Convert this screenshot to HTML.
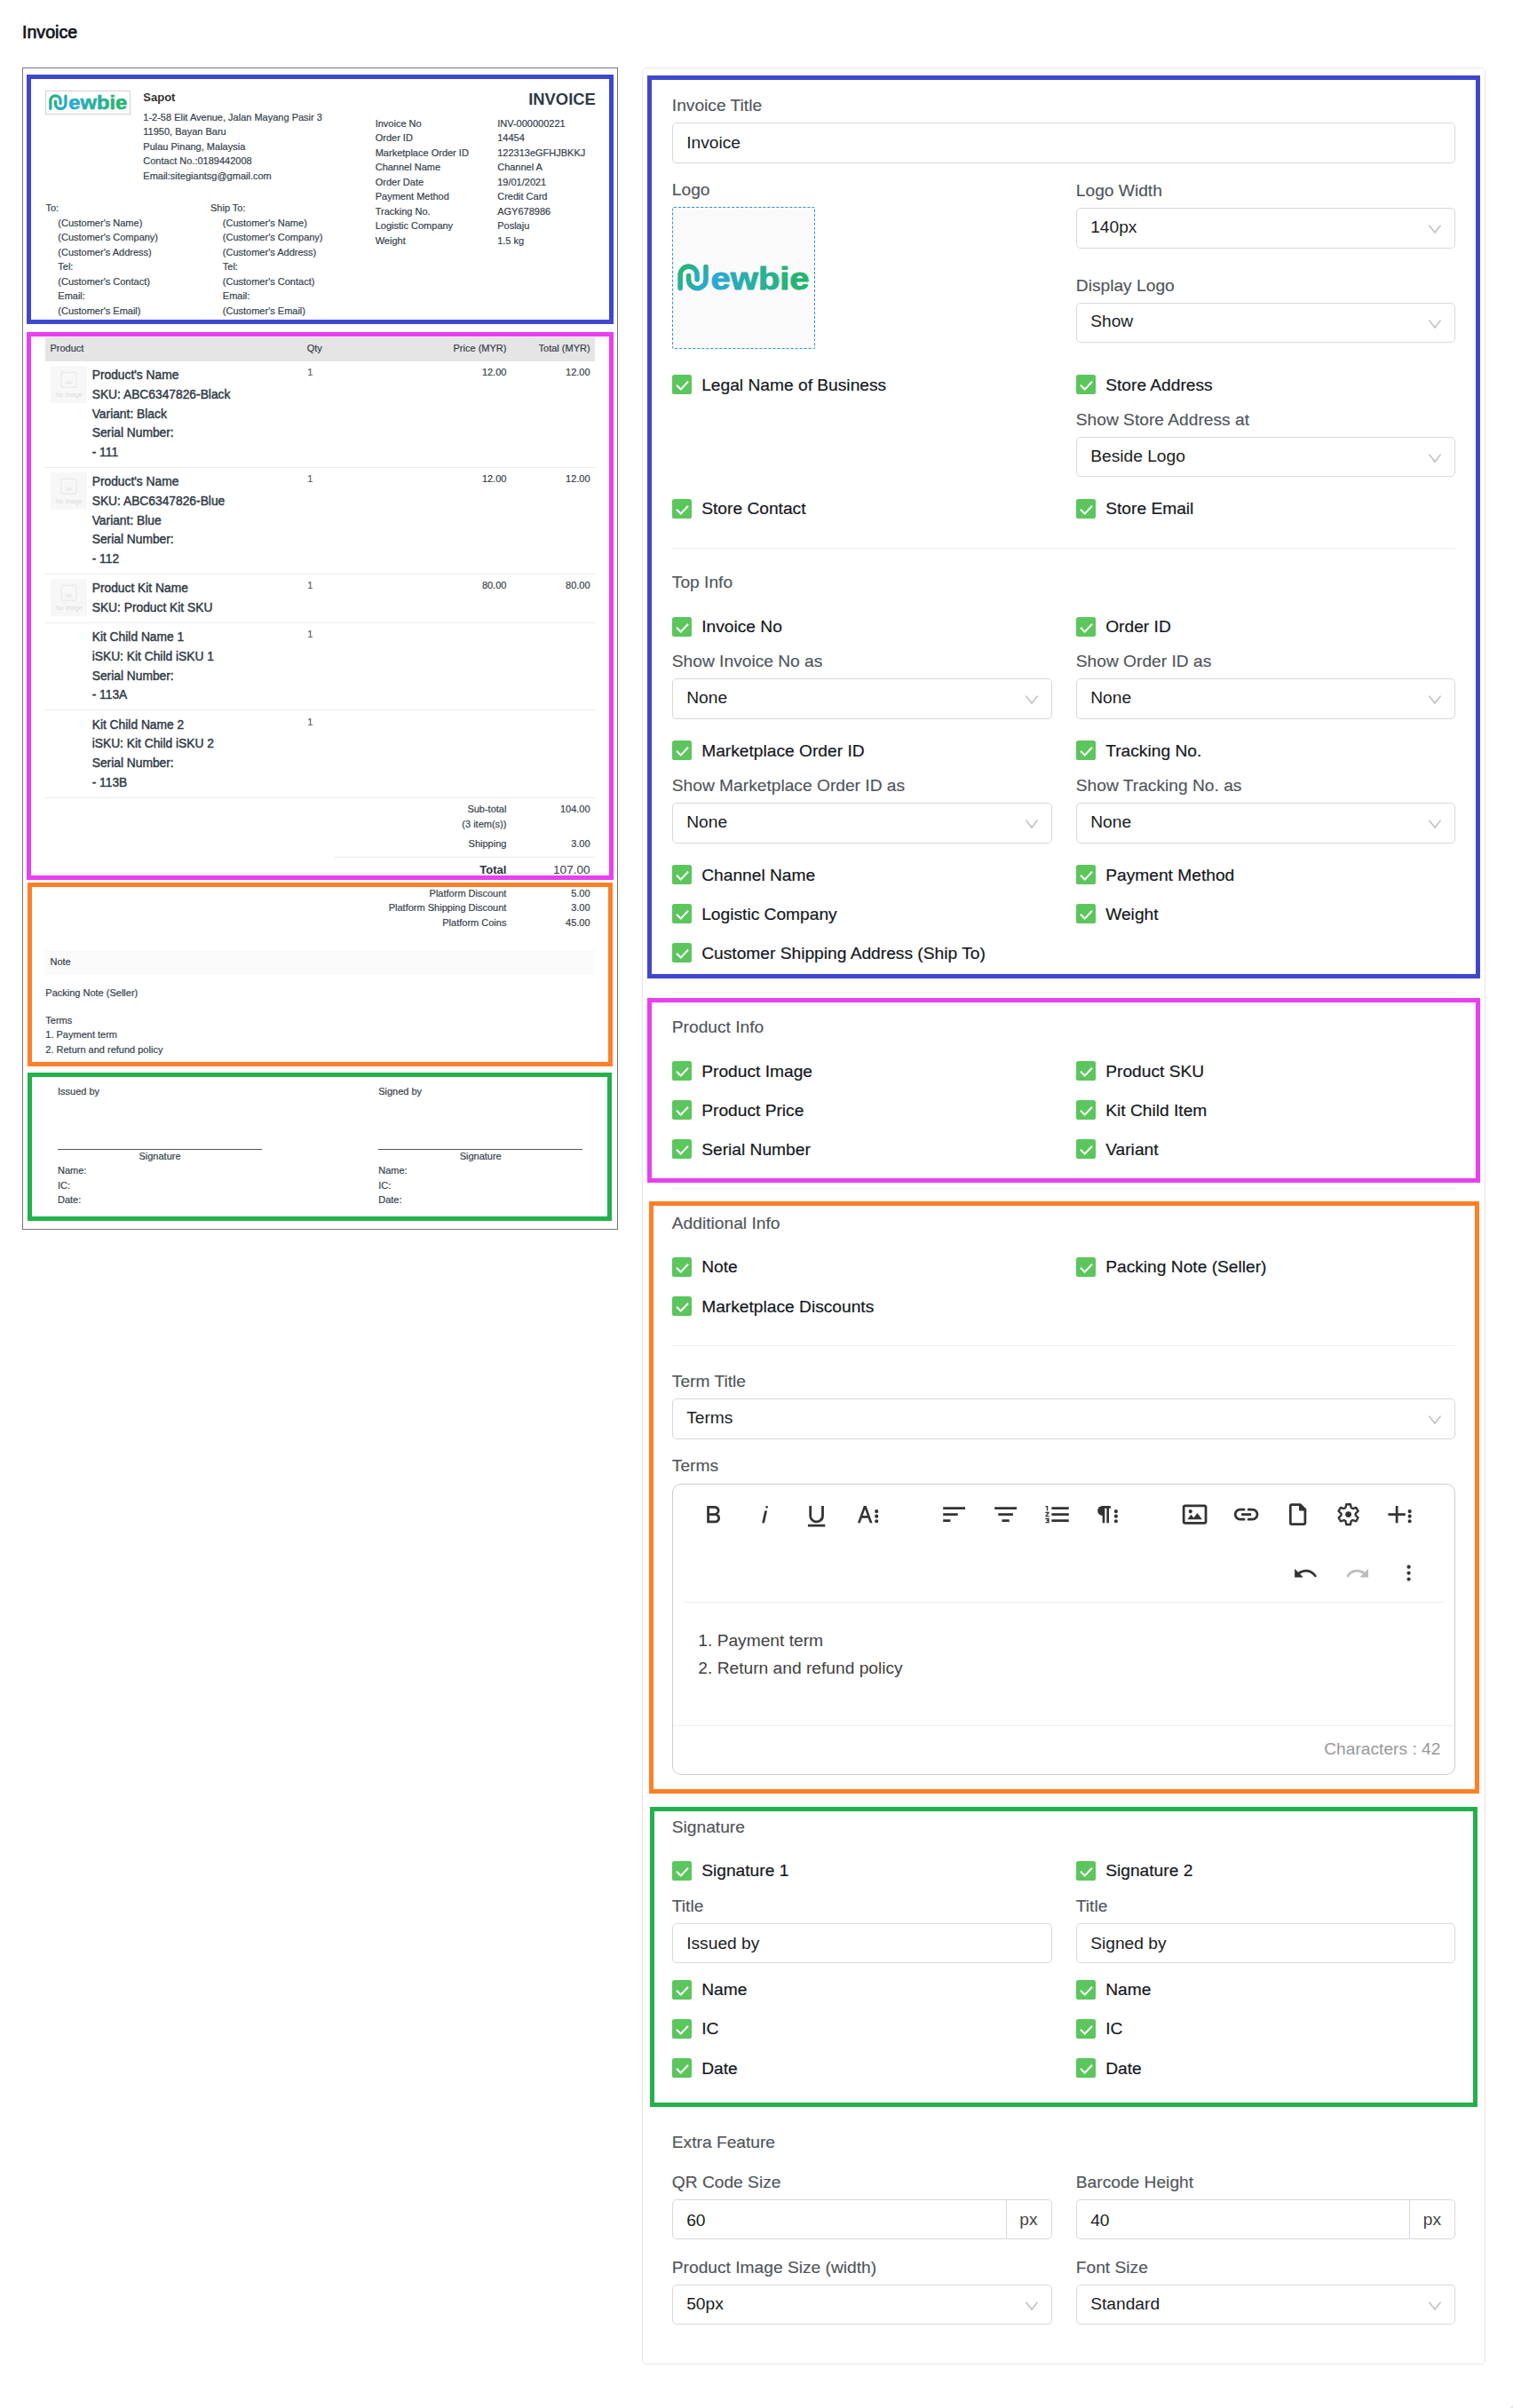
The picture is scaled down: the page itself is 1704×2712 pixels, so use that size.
<!DOCTYPE html>
<html lang="en"><head><meta charset="utf-8"><title>Invoice</title>
<style>
html,body{margin:0;padding:0;background:#fff;}
body{width:1704px;height:2712px;position:relative;overflow:hidden;font-family:"Liberation Sans",sans-serif;}
.a{position:absolute;box-sizing:content-box;}
.t{position:absolute;white-space:nowrap;}
svg{display:block;overflow:visible;}
</style></head>
<body>
<svg width="0" height="0" style="position:absolute"><defs>
<linearGradient id="g1" x1="0" y1="0" x2="1" y2="1"><stop offset="0" stop-color="#27b569"/><stop offset="1" stop-color="#2aa8dc"/></linearGradient>
<linearGradient id="g2" gradientUnits="userSpaceOnUse" x1="38" y1="0" x2="149" y2="0"><stop offset="0" stop-color="#2aa8dc"/><stop offset="0.45" stop-color="#28b09c"/><stop offset="1" stop-color="#25b566"/></linearGradient>
</defs></svg>
<div class="t" style="top:25px;font-size:19.6px;line-height:22px;color:#12121a;-webkit-text-stroke:0.7px #12121a;left:25.00px;">Invoice</div>
<div class="a" style="left:25px;top:76px;width:669px;height:1307px;border:1px solid #767676;"></div>
<div class="a" style="left:30px;top:84px;width:651px;height:271px;border:5px solid #3f48cc;"></div>
<div class="a" style="left:30px;top:374px;width:651px;height:607px;border:5px solid #e83ff0;"></div>
<div class="a" style="left:31px;top:994px;width:649px;height:196.5px;border:5px solid #ff7f27;"></div>
<div class="a" style="left:31px;top:1208px;width:648px;height:157px;border:5px solid #22b14c;"></div>
<div class="a" style="left:51px;top:102px;width:94px;height:25px;border:1px solid #d0d0d0;"></div>
<svg class="a" style="left:55px;top:105.9px" width="88.4" height="18.6" viewBox="0 0 149 31.3"><g>
<path d="M3.1 27.4 V12.6 A9.5 9.5 0 0 1 22.1 12.6 V17.8" fill="none" stroke="url(#g1)" stroke-width="5.6" stroke-linecap="round"/>
<path d="M12.6 13.6 V18 A9.7 9.7 0 0 0 32 18 V3.6" fill="none" stroke="url(#g1)" stroke-width="5.6" stroke-linecap="round"/>
<text x="37.6" y="29.2" font-family="Liberation Sans, sans-serif" font-weight="bold" font-size="35.8" textLength="111" lengthAdjust="spacingAndGlyphs" fill="url(#g2)" stroke="url(#g2)" stroke-width="1.0" stroke-linejoin="round">ewbie</text>
</g></svg>
<div class="t" style="top:102px;font-size:13px;line-height:15px;color:#333;font-weight:bold;left:161.30px;">Sapot</div>
<div class="t" style="top:126px;font-size:11px;line-height:12px;color:#333d48;-webkit-text-stroke:0.18px #333d48;left:161.30px;">1-2-58 Elit Avenue, Jalan Mayang Pasir 3</div>
<div class="t" style="top:142px;font-size:11px;line-height:12px;color:#333d48;-webkit-text-stroke:0.18px #333d48;left:161.30px;">11950, Bayan Baru</div>
<div class="t" style="top:159px;font-size:11px;line-height:12px;color:#333d48;-webkit-text-stroke:0.18px #333d48;left:161.30px;">Pulau Pinang, Malaysia</div>
<div class="t" style="top:175px;font-size:11px;line-height:12px;color:#333d48;-webkit-text-stroke:0.18px #333d48;left:161.30px;">Contact No.:0189442008</div>
<div class="t" style="top:192px;font-size:11px;line-height:12px;color:#333d48;-webkit-text-stroke:0.18px #333d48;left:161.30px;">Email:sitegiantsg@gmail.com</div>
<div class="t" style="top:101px;font-size:18.4px;line-height:21px;color:#2f3a45;font-weight:bold;right:1033.20px;">INVOICE</div>
<div class="t" style="top:133px;font-size:11px;line-height:12px;color:#333d48;-webkit-text-stroke:0.18px #333d48;left:422.70px;">Invoice No</div>
<div class="t" style="top:133px;font-size:11px;line-height:12px;color:#333d48;-webkit-text-stroke:0.18px #333d48;left:560.20px;">INV-000000221</div>
<div class="t" style="top:149px;font-size:11px;line-height:12px;color:#333d48;-webkit-text-stroke:0.18px #333d48;left:422.70px;">Order ID</div>
<div class="t" style="top:149px;font-size:11px;line-height:12px;color:#333d48;-webkit-text-stroke:0.18px #333d48;left:560.20px;">14454</div>
<div class="t" style="top:166px;font-size:11px;line-height:12px;color:#333d48;-webkit-text-stroke:0.18px #333d48;left:422.70px;">Marketplace Order ID</div>
<div class="t" style="top:166px;font-size:11px;line-height:12px;color:#333d48;-webkit-text-stroke:0.18px #333d48;left:560.20px;">122313eGFHJBKKJ</div>
<div class="t" style="top:182px;font-size:11px;line-height:12px;color:#333d48;-webkit-text-stroke:0.18px #333d48;left:422.70px;">Channel Name</div>
<div class="t" style="top:182px;font-size:11px;line-height:12px;color:#333d48;-webkit-text-stroke:0.18px #333d48;left:560.20px;">Channel A</div>
<div class="t" style="top:199px;font-size:11px;line-height:12px;color:#333d48;-webkit-text-stroke:0.18px #333d48;left:422.70px;">Order Date</div>
<div class="t" style="top:199px;font-size:11px;line-height:12px;color:#333d48;-webkit-text-stroke:0.18px #333d48;left:560.20px;">19/01/2021</div>
<div class="t" style="top:215px;font-size:11px;line-height:12px;color:#333d48;-webkit-text-stroke:0.18px #333d48;left:422.70px;">Payment Method</div>
<div class="t" style="top:215px;font-size:11px;line-height:12px;color:#333d48;-webkit-text-stroke:0.18px #333d48;left:560.20px;">Credit Card</div>
<div class="t" style="top:232px;font-size:11px;line-height:12px;color:#333d48;-webkit-text-stroke:0.18px #333d48;left:422.70px;">Tracking No.</div>
<div class="t" style="top:232px;font-size:11px;line-height:12px;color:#333d48;-webkit-text-stroke:0.18px #333d48;left:560.20px;">AGY678986</div>
<div class="t" style="top:248px;font-size:11px;line-height:12px;color:#333d48;-webkit-text-stroke:0.18px #333d48;left:422.70px;">Logistic Company</div>
<div class="t" style="top:248px;font-size:11px;line-height:12px;color:#333d48;-webkit-text-stroke:0.18px #333d48;left:560.20px;">Poslaju</div>
<div class="t" style="top:265px;font-size:11px;line-height:12px;color:#333d48;-webkit-text-stroke:0.18px #333d48;left:422.70px;">Weight</div>
<div class="t" style="top:265px;font-size:11px;line-height:12px;color:#333d48;-webkit-text-stroke:0.18px #333d48;left:560.20px;">1.5 kg</div>
<div class="t" style="top:228px;font-size:11px;line-height:12px;color:#333d48;-webkit-text-stroke:0.18px #333d48;left:51.50px;">To:</div>
<div class="t" style="top:228px;font-size:11px;line-height:12px;color:#333d48;-webkit-text-stroke:0.18px #333d48;left:237.00px;">Ship To:</div>
<div class="t" style="top:245px;font-size:11px;line-height:12px;color:#333d48;-webkit-text-stroke:0.18px #333d48;left:65.30px;">(Customer's Name)</div>
<div class="t" style="top:245px;font-size:11px;line-height:12px;color:#333d48;-webkit-text-stroke:0.18px #333d48;left:250.80px;">(Customer's Name)</div>
<div class="t" style="top:261px;font-size:11px;line-height:12px;color:#333d48;-webkit-text-stroke:0.18px #333d48;left:65.30px;">(Customer's Company)</div>
<div class="t" style="top:261px;font-size:11px;line-height:12px;color:#333d48;-webkit-text-stroke:0.18px #333d48;left:250.80px;">(Customer's Company)</div>
<div class="t" style="top:278px;font-size:11px;line-height:12px;color:#333d48;-webkit-text-stroke:0.18px #333d48;left:65.30px;">(Customer's Address)</div>
<div class="t" style="top:278px;font-size:11px;line-height:12px;color:#333d48;-webkit-text-stroke:0.18px #333d48;left:250.80px;">(Customer's Address)</div>
<div class="t" style="top:294px;font-size:11px;line-height:12px;color:#333d48;-webkit-text-stroke:0.18px #333d48;left:65.30px;">Tel:</div>
<div class="t" style="top:294px;font-size:11px;line-height:12px;color:#333d48;-webkit-text-stroke:0.18px #333d48;left:250.80px;">Tel:</div>
<div class="t" style="top:311px;font-size:11px;line-height:12px;color:#333d48;-webkit-text-stroke:0.18px #333d48;left:65.30px;">(Customer's Contact)</div>
<div class="t" style="top:311px;font-size:11px;line-height:12px;color:#333d48;-webkit-text-stroke:0.18px #333d48;left:250.80px;">(Customer's Contact)</div>
<div class="t" style="top:327px;font-size:11px;line-height:12px;color:#333d48;-webkit-text-stroke:0.18px #333d48;left:65.30px;">Email:</div>
<div class="t" style="top:327px;font-size:11px;line-height:12px;color:#333d48;-webkit-text-stroke:0.18px #333d48;left:250.80px;">Email:</div>
<div class="t" style="top:344px;font-size:11px;line-height:12px;color:#333d48;-webkit-text-stroke:0.18px #333d48;left:65.30px;">(Customer's Email)</div>
<div class="t" style="top:344px;font-size:11px;line-height:12px;color:#333d48;-webkit-text-stroke:0.18px #333d48;left:250.80px;">(Customer's Email)</div>
<div class="a" style="left:51px;top:380px;width:619px;height:27px;background:#e5e5e5;"></div>
<div class="t" style="top:386px;font-size:11px;line-height:12px;color:#333d48;-webkit-text-stroke:0.18px #333d48;left:56.50px;">Product</div>
<div class="t" style="top:386px;font-size:11px;line-height:12px;color:#333d48;-webkit-text-stroke:0.18px #333d48;left:345.70px;">Qty</div>
<div class="t" style="top:386px;font-size:11px;line-height:12px;color:#333d48;-webkit-text-stroke:0.18px #333d48;right:1133.60px;">Price (MYR)</div>
<div class="t" style="top:386px;font-size:11px;line-height:12px;color:#333d48;-webkit-text-stroke:0.18px #333d48;right:1039.40px;">Total (MYR)</div>
<div class="a" style="left:51px;top:526px;width:619px;height:1px;background:#ececec;"></div>
<div class="a" style="left:51px;top:646px;width:619px;height:1px;background:#ececec;"></div>
<div class="a" style="left:51px;top:701px;width:619px;height:1px;background:#ececec;"></div>
<div class="a" style="left:51px;top:799px;width:619px;height:1px;background:#ececec;"></div>
<div class="a" style="left:51px;top:898px;width:619px;height:1px;background:#ececec;"></div>
<div class="a" style="left:57px;top:412.2px;width:41px;height:41.5px;background:#f7f7f7;"></div>
<svg class="a" style="left:57px;top:412.2px" width="41" height="42" viewBox="0 0 41 42"><rect x="12.2" y="7.2" width="16.8" height="17" rx="1.5" fill="none" stroke="#ebebeb" stroke-width="1.4"/><path d="M15.5 20.5l3-4 1.6 2 1.8-2.6 3.4 4.6z" fill="#ebebeb"/><text x="20.5" y="34.6" font-size="7" text-anchor="middle" fill="#dcdcdc" font-family="Liberation Sans, sans-serif">No image</text></svg>
<div class="t" style="top:415px;font-size:13.8px;line-height:15px;color:#2f3944;-webkit-text-stroke:0.42px #2f3944;left:103.70px;">Product's Name</div>
<div class="t" style="top:437px;font-size:13.8px;line-height:15px;color:#2f3944;-webkit-text-stroke:0.42px #2f3944;left:103.70px;">SKU: ABC6347826-Black</div>
<div class="t" style="top:459px;font-size:13.8px;line-height:15px;color:#2f3944;-webkit-text-stroke:0.42px #2f3944;left:103.70px;">Variant: Black</div>
<div class="t" style="top:480px;font-size:13.8px;line-height:15px;color:#2f3944;-webkit-text-stroke:0.42px #2f3944;left:103.70px;">Serial Number:</div>
<div class="t" style="top:502px;font-size:13.8px;line-height:15px;color:#2f3944;-webkit-text-stroke:0.42px #2f3944;left:103.70px;">- 111</div>
<div class="t" style="top:413px;font-size:11px;line-height:12px;color:#555e66;-webkit-text-stroke:0.18px #555e66;left:346.20px;">1</div>
<div class="t" style="top:413px;font-size:11px;line-height:12px;color:#333d48;-webkit-text-stroke:0.18px #333d48;right:1133.60px;">12.00</div>
<div class="t" style="top:413px;font-size:11px;line-height:12px;color:#333d48;-webkit-text-stroke:0.18px #333d48;right:1039.40px;">12.00</div>
<div class="a" style="left:57px;top:532.3px;width:41px;height:41.5px;background:#f7f7f7;"></div>
<svg class="a" style="left:57px;top:532.3px" width="41" height="42" viewBox="0 0 41 42"><rect x="12.2" y="7.2" width="16.8" height="17" rx="1.5" fill="none" stroke="#ebebeb" stroke-width="1.4"/><path d="M15.5 20.5l3-4 1.6 2 1.8-2.6 3.4 4.6z" fill="#ebebeb"/><text x="20.5" y="34.6" font-size="7" text-anchor="middle" fill="#dcdcdc" font-family="Liberation Sans, sans-serif">No image</text></svg>
<div class="t" style="top:535px;font-size:13.8px;line-height:15px;color:#2f3944;-webkit-text-stroke:0.42px #2f3944;left:103.70px;">Product's Name</div>
<div class="t" style="top:557px;font-size:13.8px;line-height:15px;color:#2f3944;-webkit-text-stroke:0.42px #2f3944;left:103.70px;">SKU: ABC6347826-Blue</div>
<div class="t" style="top:579px;font-size:13.8px;line-height:15px;color:#2f3944;-webkit-text-stroke:0.42px #2f3944;left:103.70px;">Variant: Blue</div>
<div class="t" style="top:600px;font-size:13.8px;line-height:15px;color:#2f3944;-webkit-text-stroke:0.42px #2f3944;left:103.70px;">Serial Number:</div>
<div class="t" style="top:622px;font-size:13.8px;line-height:15px;color:#2f3944;-webkit-text-stroke:0.42px #2f3944;left:103.70px;">- 112</div>
<div class="t" style="top:533px;font-size:11px;line-height:12px;color:#555e66;-webkit-text-stroke:0.18px #555e66;left:346.20px;">1</div>
<div class="t" style="top:533px;font-size:11px;line-height:12px;color:#333d48;-webkit-text-stroke:0.18px #333d48;right:1133.60px;">12.00</div>
<div class="t" style="top:533px;font-size:11px;line-height:12px;color:#333d48;-webkit-text-stroke:0.18px #333d48;right:1039.40px;">12.00</div>
<div class="a" style="left:57px;top:652.4px;width:41px;height:41.5px;background:#f7f7f7;"></div>
<svg class="a" style="left:57px;top:652.4px" width="41" height="42" viewBox="0 0 41 42"><rect x="12.2" y="7.2" width="16.8" height="17" rx="1.5" fill="none" stroke="#ebebeb" stroke-width="1.4"/><path d="M15.5 20.5l3-4 1.6 2 1.8-2.6 3.4 4.6z" fill="#ebebeb"/><text x="20.5" y="34.6" font-size="7" text-anchor="middle" fill="#dcdcdc" font-family="Liberation Sans, sans-serif">No image</text></svg>
<div class="t" style="top:655px;font-size:13.8px;line-height:15px;color:#2f3944;-webkit-text-stroke:0.42px #2f3944;left:103.70px;">Product Kit Name</div>
<div class="t" style="top:677px;font-size:13.8px;line-height:15px;color:#2f3944;-webkit-text-stroke:0.42px #2f3944;left:103.70px;">SKU: Product Kit SKU</div>
<div class="t" style="top:653px;font-size:11px;line-height:12px;color:#555e66;-webkit-text-stroke:0.18px #555e66;left:346.20px;">1</div>
<div class="t" style="top:653px;font-size:11px;line-height:12px;color:#333d48;-webkit-text-stroke:0.18px #333d48;right:1133.60px;">80.00</div>
<div class="t" style="top:653px;font-size:11px;line-height:12px;color:#333d48;-webkit-text-stroke:0.18px #333d48;right:1039.40px;">80.00</div>
<div class="t" style="top:710px;font-size:13.8px;line-height:15px;color:#2f3944;-webkit-text-stroke:0.42px #2f3944;left:103.70px;">Kit Child Name 1</div>
<div class="t" style="top:732px;font-size:13.8px;line-height:15px;color:#2f3944;-webkit-text-stroke:0.42px #2f3944;left:103.70px;">iSKU: Kit Child iSKU 1</div>
<div class="t" style="top:754px;font-size:13.8px;line-height:15px;color:#2f3944;-webkit-text-stroke:0.42px #2f3944;left:103.70px;">Serial Number:</div>
<div class="t" style="top:775px;font-size:13.8px;line-height:15px;color:#2f3944;-webkit-text-stroke:0.42px #2f3944;left:103.70px;">- 113A</div>
<div class="t" style="top:708px;font-size:11px;line-height:12px;color:#555e66;-webkit-text-stroke:0.18px #555e66;left:346.20px;">1</div>
<div class="t" style="top:809px;font-size:13.8px;line-height:15px;color:#2f3944;-webkit-text-stroke:0.42px #2f3944;left:103.70px;">Kit Child Name 2</div>
<div class="t" style="top:830px;font-size:13.8px;line-height:15px;color:#2f3944;-webkit-text-stroke:0.42px #2f3944;left:103.70px;">iSKU: Kit Child iSKU 2</div>
<div class="t" style="top:852px;font-size:13.8px;line-height:15px;color:#2f3944;-webkit-text-stroke:0.42px #2f3944;left:103.70px;">Serial Number:</div>
<div class="t" style="top:874px;font-size:13.8px;line-height:15px;color:#2f3944;-webkit-text-stroke:0.42px #2f3944;left:103.70px;">- 113B</div>
<div class="t" style="top:807px;font-size:11px;line-height:12px;color:#555e66;-webkit-text-stroke:0.18px #555e66;left:346.20px;">1</div>
<div class="t" style="top:905px;font-size:11px;line-height:12px;color:#333d48;-webkit-text-stroke:0.18px #333d48;right:1133.60px;">Sub-total</div>
<div class="t" style="top:905px;font-size:11px;line-height:12px;color:#333d48;-webkit-text-stroke:0.18px #333d48;right:1039.40px;">104.00</div>
<div class="t" style="top:922px;font-size:11px;line-height:12px;color:#333d48;-webkit-text-stroke:0.18px #333d48;right:1133.60px;">(3 item(s))</div>
<div class="t" style="top:944px;font-size:11px;line-height:12px;color:#333d48;-webkit-text-stroke:0.18px #333d48;right:1133.60px;">Shipping</div>
<div class="t" style="top:944px;font-size:11px;line-height:12px;color:#333d48;-webkit-text-stroke:0.18px #333d48;right:1039.40px;">3.00</div>
<div class="a" style="left:377px;top:965px;width:293px;height:1px;background:#ececec;"></div>
<div class="t" style="top:972px;font-size:13px;line-height:15px;color:#2a323b;font-weight:bold;right:1133.60px;">Total</div>
<div class="t" style="top:972px;font-size:13.6px;line-height:15px;color:#333d48;right:1039.40px;">107.00</div>
<div class="a" style="left:30px;top:986px;width:661px;height:5px;background:#e83ff0;"></div>
<div class="t" style="top:1000px;font-size:11px;line-height:12px;color:#333d48;-webkit-text-stroke:0.18px #333d48;right:1133.60px;">Platform Discount</div>
<div class="t" style="top:1000px;font-size:11px;line-height:12px;color:#333d48;-webkit-text-stroke:0.18px #333d48;right:1039.40px;">5.00</div>
<div class="t" style="top:1016px;font-size:11px;line-height:12px;color:#333d48;-webkit-text-stroke:0.18px #333d48;right:1133.60px;">Platform Shipping Discount</div>
<div class="t" style="top:1016px;font-size:11px;line-height:12px;color:#333d48;-webkit-text-stroke:0.18px #333d48;right:1039.40px;">3.00</div>
<div class="t" style="top:1033px;font-size:11px;line-height:12px;color:#333d48;-webkit-text-stroke:0.18px #333d48;right:1133.60px;">Platform Coins</div>
<div class="t" style="top:1033px;font-size:11px;line-height:12px;color:#333d48;-webkit-text-stroke:0.18px #333d48;right:1039.40px;">45.00</div>
<div class="a" style="left:51px;top:1070px;width:619px;height:27.5px;background:#fafafa;"></div>
<div class="t" style="top:1077px;font-size:11px;line-height:12px;color:#333d48;-webkit-text-stroke:0.18px #333d48;left:56.50px;">Note</div>
<div class="t" style="top:1112px;font-size:11px;line-height:12px;color:#333d48;-webkit-text-stroke:0.18px #333d48;left:51.30px;">Packing Note (Seller)</div>
<div class="t" style="top:1143px;font-size:11px;line-height:12px;color:#333d48;-webkit-text-stroke:0.18px #333d48;left:51.30px;">Terms</div>
<div class="t" style="top:1159px;font-size:11px;line-height:12px;color:#333d48;-webkit-text-stroke:0.18px #333d48;left:51.30px;">1. Payment term</div>
<div class="t" style="top:1176px;font-size:11px;line-height:12px;color:#333d48;-webkit-text-stroke:0.18px #333d48;left:51.30px;">2. Return and refund policy</div>
<div class="t" style="top:1223px;font-size:11px;line-height:12px;color:#333d48;-webkit-text-stroke:0.18px #333d48;left:65.00px;">Issued by</div>
<div class="a" style="left:65px;top:1294px;width:230px;height:1px;background:#555;"></div>
<div class="t" style="top:1296px;font-size:11px;line-height:12px;color:#333d48;-webkit-text-stroke:0.18px #333d48;left:-220.00px;width:800px;text-align:center;">Signature</div>
<div class="t" style="top:1312px;font-size:11px;line-height:12px;color:#333d48;-webkit-text-stroke:0.18px #333d48;left:65.00px;">Name:</div>
<div class="t" style="top:1329px;font-size:11px;line-height:12px;color:#333d48;-webkit-text-stroke:0.18px #333d48;left:65.00px;">IC:</div>
<div class="t" style="top:1345px;font-size:11px;line-height:12px;color:#333d48;-webkit-text-stroke:0.18px #333d48;left:65.00px;">Date:</div>
<div class="t" style="top:1223px;font-size:11px;line-height:12px;color:#333d48;-webkit-text-stroke:0.18px #333d48;left:426.20px;">Signed by</div>
<div class="a" style="left:426.2px;top:1294px;width:230.00000000000006px;height:1px;background:#555;"></div>
<div class="t" style="top:1296px;font-size:11px;line-height:12px;color:#333d48;-webkit-text-stroke:0.18px #333d48;left:141.20px;width:800px;text-align:center;">Signature</div>
<div class="t" style="top:1312px;font-size:11px;line-height:12px;color:#333d48;-webkit-text-stroke:0.18px #333d48;left:426.20px;">Name:</div>
<div class="t" style="top:1329px;font-size:11px;line-height:12px;color:#333d48;-webkit-text-stroke:0.18px #333d48;left:426.20px;">IC:</div>
<div class="t" style="top:1345px;font-size:11px;line-height:12px;color:#333d48;-webkit-text-stroke:0.18px #333d48;left:426.20px;">Date:</div>
<div class="a" style="left:723px;top:76px;width:948px;height:2585px;border:1px solid #e6e6e6;border-radius:5px;"></div>
<div class="a" style="left:729px;top:85px;width:928px;height:1007px;border:5px solid #3f48cc;"></div>
<div class="a" style="left:729px;top:1124px;width:928px;height:198px;border:5px solid #e83ff0;"></div>
<div class="a" style="left:731px;top:1353px;width:925px;height:657px;border:5px solid #ff7f27;"></div>
<div class="a" style="left:732px;top:2035px;width:922px;height:328px;border:5px solid #22b14c;"></div>
<div class="t" style="top:108px;font-size:19.2px;line-height:21px;color:#50555b;-webkit-text-stroke:0.15px #50555b;left:756.80px;">Invoice Title</div>
<div class="a" style="left:757px;top:138px;width:880px;height:44px;border:1px solid #d8d8d8;border-radius:5px;background:#fff;"></div>
<div class="t" style="top:150px;font-size:19.2px;line-height:21px;color:#1a1c22;left:773.20px;">Invoice</div>
<div class="t" style="top:203px;font-size:19.2px;line-height:21px;color:#50555b;-webkit-text-stroke:0.15px #50555b;left:756.80px;">Logo</div>
<div class="t" style="top:204px;font-size:19.2px;line-height:21px;color:#50555b;-webkit-text-stroke:0.15px #50555b;left:1211.80px;">Logo Width</div>
<div class="a" style="left:1212px;top:234px;width:425px;height:44px;border:1px solid #d8d8d8;border-radius:5px;background:#fff;"></div>
<div class="t" style="top:245px;font-size:19.2px;line-height:21px;color:#1a1c22;left:1228.20px;">140px</div>
<svg class="a" style="left:1607.4px;top:250.60000000000002px" width="18" height="14" viewBox="0 0 18 14"><path d="M2.4 2.6 L9 11 L15.6 2.6" fill="none" stroke="#bdbdbd" stroke-width="1.5"/></svg>
<div class="a" style="left:757px;top:233px;width:159px;height:157.5px;border:1px dashed #2f8fe8;background:#fafafa;border-radius:2px;"></div>
<svg class="a" style="left:763px;top:297.4px" width="149" height="31.3" viewBox="0 0 149 31.3"><g>
<path d="M3.1 27.4 V12.6 A9.5 9.5 0 0 1 22.1 12.6 V17.8" fill="none" stroke="url(#g1)" stroke-width="5.6" stroke-linecap="round"/>
<path d="M12.6 13.6 V18 A9.7 9.7 0 0 0 32 18 V3.6" fill="none" stroke="url(#g1)" stroke-width="5.6" stroke-linecap="round"/>
<text x="37.6" y="29.2" font-family="Liberation Sans, sans-serif" font-weight="bold" font-size="35.8" textLength="111" lengthAdjust="spacingAndGlyphs" fill="url(#g2)" stroke="url(#g2)" stroke-width="1.0" stroke-linejoin="round">ewbie</text>
</g></svg>
<div class="t" style="top:311px;font-size:19.2px;line-height:21px;color:#50555b;-webkit-text-stroke:0.15px #50555b;left:1211.80px;">Display Logo</div>
<div class="a" style="left:1212px;top:341px;width:425px;height:43px;border:1px solid #d8d8d8;border-radius:5px;background:#fff;"></div>
<div class="t" style="top:351px;font-size:19.2px;line-height:21px;color:#1a1c22;left:1228.20px;">Show</div>
<svg class="a" style="left:1607.4px;top:357.6px" width="18" height="14" viewBox="0 0 18 14"><path d="M2.4 2.6 L9 11 L15.6 2.6" fill="none" stroke="#bdbdbd" stroke-width="1.5"/></svg>
<svg class="a" style="left:757px;top:422px" width="22" height="22" viewBox="0 0 22 22"><rect width="22" height="22" rx="2.6" fill="#5bc65c"/><path d="M5 11.8 L9.7 16.6 L18 7.8" fill="none" stroke="#fff" stroke-width="2.1"/></svg>
<div class="t" style="top:423px;font-size:19.2px;line-height:21px;color:#15181d;-webkit-text-stroke:0.2px #15181d;left:790.20px;">Legal Name of Business</div>
<svg class="a" style="left:1212px;top:422px" width="22" height="22" viewBox="0 0 22 22"><rect width="22" height="22" rx="2.6" fill="#5bc65c"/><path d="M5 11.8 L9.7 16.6 L18 7.8" fill="none" stroke="#fff" stroke-width="2.1"/></svg>
<div class="t" style="top:423px;font-size:19.2px;line-height:21px;color:#15181d;-webkit-text-stroke:0.2px #15181d;left:1245.20px;">Store Address</div>
<div class="t" style="top:462px;font-size:19.2px;line-height:21px;color:#50555b;-webkit-text-stroke:0.15px #50555b;left:1211.80px;">Show Store Address at</div>
<div class="a" style="left:1212px;top:492px;width:425px;height:43px;border:1px solid #d8d8d8;border-radius:5px;background:#fff;"></div>
<div class="t" style="top:503px;font-size:19.2px;line-height:21px;color:#1a1c22;left:1228.20px;">Beside Logo</div>
<svg class="a" style="left:1607.4px;top:508.6px" width="18" height="14" viewBox="0 0 18 14"><path d="M2.4 2.6 L9 11 L15.6 2.6" fill="none" stroke="#bdbdbd" stroke-width="1.5"/></svg>
<svg class="a" style="left:757px;top:562px" width="22" height="22" viewBox="0 0 22 22"><rect width="22" height="22" rx="2.6" fill="#5bc65c"/><path d="M5 11.8 L9.7 16.6 L18 7.8" fill="none" stroke="#fff" stroke-width="2.1"/></svg>
<div class="t" style="top:562px;font-size:19.2px;line-height:21px;color:#15181d;-webkit-text-stroke:0.2px #15181d;left:790.20px;">Store Contact</div>
<svg class="a" style="left:1212px;top:562px" width="22" height="22" viewBox="0 0 22 22"><rect width="22" height="22" rx="2.6" fill="#5bc65c"/><path d="M5 11.8 L9.7 16.6 L18 7.8" fill="none" stroke="#fff" stroke-width="2.1"/></svg>
<div class="t" style="top:562px;font-size:19.2px;line-height:21px;color:#15181d;-webkit-text-stroke:0.2px #15181d;left:1245.20px;">Store Email</div>
<div class="a" style="left:757px;top:617px;width:882px;height:1px;background:#eeeeee;"></div>
<div class="t" style="top:645px;font-size:19.2px;line-height:21px;color:#50555b;-webkit-text-stroke:0.15px #50555b;left:756.80px;">Top Info</div>
<svg class="a" style="left:757px;top:695px" width="22" height="22" viewBox="0 0 22 22"><rect width="22" height="22" rx="2.6" fill="#5bc65c"/><path d="M5 11.8 L9.7 16.6 L18 7.8" fill="none" stroke="#fff" stroke-width="2.1"/></svg>
<div class="t" style="top:695px;font-size:19.2px;line-height:21px;color:#15181d;-webkit-text-stroke:0.2px #15181d;left:790.20px;">Invoice No</div>
<svg class="a" style="left:1212px;top:695px" width="22" height="22" viewBox="0 0 22 22"><rect width="22" height="22" rx="2.6" fill="#5bc65c"/><path d="M5 11.8 L9.7 16.6 L18 7.8" fill="none" stroke="#fff" stroke-width="2.1"/></svg>
<div class="t" style="top:695px;font-size:19.2px;line-height:21px;color:#15181d;-webkit-text-stroke:0.2px #15181d;left:1245.20px;">Order ID</div>
<div class="t" style="top:734px;font-size:19.2px;line-height:21px;color:#50555b;-webkit-text-stroke:0.15px #50555b;left:756.80px;">Show Invoice No as</div>
<div class="t" style="top:734px;font-size:19.2px;line-height:21px;color:#50555b;-webkit-text-stroke:0.15px #50555b;left:1211.80px;">Show Order ID as</div>
<div class="a" style="left:757px;top:764px;width:425.5px;height:44px;border:1px solid #d8d8d8;border-radius:5px;background:#fff;"></div>
<div class="t" style="top:775px;font-size:19.2px;line-height:21px;color:#1a1c22;left:773.20px;">None</div>
<svg class="a" style="left:1152.9px;top:780.6px" width="18" height="14" viewBox="0 0 18 14"><path d="M2.4 2.6 L9 11 L15.6 2.6" fill="none" stroke="#bdbdbd" stroke-width="1.5"/></svg>
<div class="a" style="left:1212px;top:764px;width:425px;height:44px;border:1px solid #d8d8d8;border-radius:5px;background:#fff;"></div>
<div class="t" style="top:775px;font-size:19.2px;line-height:21px;color:#1a1c22;left:1228.20px;">None</div>
<svg class="a" style="left:1607.4px;top:780.6px" width="18" height="14" viewBox="0 0 18 14"><path d="M2.4 2.6 L9 11 L15.6 2.6" fill="none" stroke="#bdbdbd" stroke-width="1.5"/></svg>
<svg class="a" style="left:757px;top:834px" width="22" height="22" viewBox="0 0 22 22"><rect width="22" height="22" rx="2.6" fill="#5bc65c"/><path d="M5 11.8 L9.7 16.6 L18 7.8" fill="none" stroke="#fff" stroke-width="2.1"/></svg>
<div class="t" style="top:835px;font-size:19.2px;line-height:21px;color:#15181d;-webkit-text-stroke:0.2px #15181d;left:790.20px;">Marketplace Order ID</div>
<svg class="a" style="left:1212px;top:834px" width="22" height="22" viewBox="0 0 22 22"><rect width="22" height="22" rx="2.6" fill="#5bc65c"/><path d="M5 11.8 L9.7 16.6 L18 7.8" fill="none" stroke="#fff" stroke-width="2.1"/></svg>
<div class="t" style="top:835px;font-size:19.2px;line-height:21px;color:#15181d;-webkit-text-stroke:0.2px #15181d;left:1245.20px;">Tracking No.</div>
<div class="t" style="top:874px;font-size:19.2px;line-height:21px;color:#50555b;-webkit-text-stroke:0.15px #50555b;left:756.80px;">Show Marketplace Order ID as</div>
<div class="t" style="top:874px;font-size:19.2px;line-height:21px;color:#50555b;-webkit-text-stroke:0.15px #50555b;left:1211.80px;">Show Tracking No. as</div>
<div class="a" style="left:757px;top:904px;width:425.5px;height:44px;border:1px solid #d8d8d8;border-radius:5px;background:#fff;"></div>
<div class="t" style="top:915px;font-size:19.2px;line-height:21px;color:#1a1c22;left:773.20px;">None</div>
<svg class="a" style="left:1152.9px;top:920.6px" width="18" height="14" viewBox="0 0 18 14"><path d="M2.4 2.6 L9 11 L15.6 2.6" fill="none" stroke="#bdbdbd" stroke-width="1.5"/></svg>
<div class="a" style="left:1212px;top:904px;width:425px;height:44px;border:1px solid #d8d8d8;border-radius:5px;background:#fff;"></div>
<div class="t" style="top:915px;font-size:19.2px;line-height:21px;color:#1a1c22;left:1228.20px;">None</div>
<svg class="a" style="left:1607.4px;top:920.6px" width="18" height="14" viewBox="0 0 18 14"><path d="M2.4 2.6 L9 11 L15.6 2.6" fill="none" stroke="#bdbdbd" stroke-width="1.5"/></svg>
<svg class="a" style="left:757px;top:974px" width="22" height="22" viewBox="0 0 22 22"><rect width="22" height="22" rx="2.6" fill="#5bc65c"/><path d="M5 11.8 L9.7 16.6 L18 7.8" fill="none" stroke="#fff" stroke-width="2.1"/></svg>
<div class="t" style="top:975px;font-size:19.2px;line-height:21px;color:#15181d;-webkit-text-stroke:0.2px #15181d;left:790.20px;">Channel Name</div>
<svg class="a" style="left:1212px;top:974px" width="22" height="22" viewBox="0 0 22 22"><rect width="22" height="22" rx="2.6" fill="#5bc65c"/><path d="M5 11.8 L9.7 16.6 L18 7.8" fill="none" stroke="#fff" stroke-width="2.1"/></svg>
<div class="t" style="top:975px;font-size:19.2px;line-height:21px;color:#15181d;-webkit-text-stroke:0.2px #15181d;left:1245.20px;">Payment Method</div>
<svg class="a" style="left:757px;top:1018px" width="22" height="22" viewBox="0 0 22 22"><rect width="22" height="22" rx="2.6" fill="#5bc65c"/><path d="M5 11.8 L9.7 16.6 L18 7.8" fill="none" stroke="#fff" stroke-width="2.1"/></svg>
<div class="t" style="top:1019px;font-size:19.2px;line-height:21px;color:#15181d;-webkit-text-stroke:0.2px #15181d;left:790.20px;">Logistic Company</div>
<svg class="a" style="left:1212px;top:1018px" width="22" height="22" viewBox="0 0 22 22"><rect width="22" height="22" rx="2.6" fill="#5bc65c"/><path d="M5 11.8 L9.7 16.6 L18 7.8" fill="none" stroke="#fff" stroke-width="2.1"/></svg>
<div class="t" style="top:1019px;font-size:19.2px;line-height:21px;color:#15181d;-webkit-text-stroke:0.2px #15181d;left:1245.20px;">Weight</div>
<svg class="a" style="left:757px;top:1062px" width="22" height="22" viewBox="0 0 22 22"><rect width="22" height="22" rx="2.6" fill="#5bc65c"/><path d="M5 11.8 L9.7 16.6 L18 7.8" fill="none" stroke="#fff" stroke-width="2.1"/></svg>
<div class="t" style="top:1063px;font-size:19.2px;line-height:21px;color:#15181d;-webkit-text-stroke:0.2px #15181d;left:790.20px;">Customer Shipping Address (Ship To)</div>
<div class="a" style="left:757px;top:1117px;width:882px;height:1px;background:#eeeeee;"></div>
<div class="t" style="top:1146px;font-size:19.2px;line-height:21px;color:#50555b;-webkit-text-stroke:0.15px #50555b;left:756.80px;">Product Info</div>
<svg class="a" style="left:757px;top:1195px" width="22" height="22" viewBox="0 0 22 22"><rect width="22" height="22" rx="2.6" fill="#5bc65c"/><path d="M5 11.8 L9.7 16.6 L18 7.8" fill="none" stroke="#fff" stroke-width="2.1"/></svg>
<div class="t" style="top:1196px;font-size:19.2px;line-height:21px;color:#15181d;-webkit-text-stroke:0.2px #15181d;left:790.20px;">Product Image</div>
<svg class="a" style="left:1212px;top:1195px" width="22" height="22" viewBox="0 0 22 22"><rect width="22" height="22" rx="2.6" fill="#5bc65c"/><path d="M5 11.8 L9.7 16.6 L18 7.8" fill="none" stroke="#fff" stroke-width="2.1"/></svg>
<div class="t" style="top:1196px;font-size:19.2px;line-height:21px;color:#15181d;-webkit-text-stroke:0.2px #15181d;left:1245.20px;">Product SKU</div>
<svg class="a" style="left:757px;top:1239px" width="22" height="22" viewBox="0 0 22 22"><rect width="22" height="22" rx="2.6" fill="#5bc65c"/><path d="M5 11.8 L9.7 16.6 L18 7.8" fill="none" stroke="#fff" stroke-width="2.1"/></svg>
<div class="t" style="top:1240px;font-size:19.2px;line-height:21px;color:#15181d;-webkit-text-stroke:0.2px #15181d;left:790.20px;">Product Price</div>
<svg class="a" style="left:1212px;top:1239px" width="22" height="22" viewBox="0 0 22 22"><rect width="22" height="22" rx="2.6" fill="#5bc65c"/><path d="M5 11.8 L9.7 16.6 L18 7.8" fill="none" stroke="#fff" stroke-width="2.1"/></svg>
<div class="t" style="top:1240px;font-size:19.2px;line-height:21px;color:#15181d;-webkit-text-stroke:0.2px #15181d;left:1245.20px;">Kit Child Item</div>
<svg class="a" style="left:757px;top:1283px" width="22" height="22" viewBox="0 0 22 22"><rect width="22" height="22" rx="2.6" fill="#5bc65c"/><path d="M5 11.8 L9.7 16.6 L18 7.8" fill="none" stroke="#fff" stroke-width="2.1"/></svg>
<div class="t" style="top:1284px;font-size:19.2px;line-height:21px;color:#15181d;-webkit-text-stroke:0.2px #15181d;left:790.20px;">Serial Number</div>
<svg class="a" style="left:1212px;top:1283px" width="22" height="22" viewBox="0 0 22 22"><rect width="22" height="22" rx="2.6" fill="#5bc65c"/><path d="M5 11.8 L9.7 16.6 L18 7.8" fill="none" stroke="#fff" stroke-width="2.1"/></svg>
<div class="t" style="top:1284px;font-size:19.2px;line-height:21px;color:#15181d;-webkit-text-stroke:0.2px #15181d;left:1245.20px;">Variant</div>
<div class="a" style="left:757px;top:1338px;width:882px;height:1px;background:#eeeeee;"></div>
<div class="t" style="top:1367px;font-size:19.2px;line-height:21px;color:#50555b;-webkit-text-stroke:0.15px #50555b;left:756.80px;">Additional Info</div>
<svg class="a" style="left:757px;top:1416px" width="22" height="22" viewBox="0 0 22 22"><rect width="22" height="22" rx="2.6" fill="#5bc65c"/><path d="M5 11.8 L9.7 16.6 L18 7.8" fill="none" stroke="#fff" stroke-width="2.1"/></svg>
<div class="t" style="top:1416px;font-size:19.2px;line-height:21px;color:#15181d;-webkit-text-stroke:0.2px #15181d;left:790.20px;">Note</div>
<svg class="a" style="left:1212px;top:1416px" width="22" height="22" viewBox="0 0 22 22"><rect width="22" height="22" rx="2.6" fill="#5bc65c"/><path d="M5 11.8 L9.7 16.6 L18 7.8" fill="none" stroke="#fff" stroke-width="2.1"/></svg>
<div class="t" style="top:1416px;font-size:19.2px;line-height:21px;color:#15181d;-webkit-text-stroke:0.2px #15181d;left:1245.20px;">Packing Note (Seller)</div>
<svg class="a" style="left:757px;top:1460px" width="22" height="22" viewBox="0 0 22 22"><rect width="22" height="22" rx="2.6" fill="#5bc65c"/><path d="M5 11.8 L9.7 16.6 L18 7.8" fill="none" stroke="#fff" stroke-width="2.1"/></svg>
<div class="t" style="top:1461px;font-size:19.2px;line-height:21px;color:#15181d;-webkit-text-stroke:0.2px #15181d;left:790.20px;">Marketplace Discounts</div>
<div class="a" style="left:757px;top:1515px;width:882px;height:1px;background:#eeeeee;"></div>
<div class="t" style="top:1545px;font-size:19.2px;line-height:21px;color:#50555b;-webkit-text-stroke:0.15px #50555b;left:756.80px;">Term Title</div>
<div class="a" style="left:757px;top:1575px;width:880px;height:44px;border:1px solid #d8d8d8;border-radius:5px;background:#fff;"></div>
<div class="t" style="top:1586px;font-size:19.2px;line-height:21px;color:#1a1c22;left:773.20px;">Terms</div>
<svg class="a" style="left:1607.4px;top:1591.6px" width="18" height="14" viewBox="0 0 18 14"><path d="M2.4 2.6 L9 11 L15.6 2.6" fill="none" stroke="#bdbdbd" stroke-width="1.5"/></svg>
<div class="t" style="top:1640px;font-size:19.2px;line-height:21px;color:#50555b;-webkit-text-stroke:0.15px #50555b;left:756.80px;">Terms</div>
<div class="a" style="left:757px;top:1671px;width:879.5px;height:326px;border:1px solid #cccccc;border-radius:10px;background:#fff;"></div>
<div class="a" style="left:771px;top:1804px;width:855px;height:1px;background:#ececec;"></div>
<div class="a" style="left:758px;top:1943px;width:880px;height:1px;background:#efefef;"></div>
<div class="t" style="top:1837px;font-size:19.2px;line-height:21px;color:#414141;left:786.30px;">1. Payment term</div>
<div class="t" style="top:1868px;font-size:19.2px;line-height:21px;color:#414141;left:786.30px;">2. Return and refund policy</div>
<div class="t" style="top:1959px;font-size:19.2px;line-height:21px;color:#999;right:81.60px;">Characters : 42</div>
<svg class="a" style="left:786.60px;top:1688.70px" width="33.19" height="33.19" viewBox="0 0 24 24"><path fill="#333" d="M15.25,11.8h0A3.68,3.68,0,0,0,17,9a3.93,3.93,0,0,0-3.86-4H6.65V19h7a3.74,3.74,0,0,0,3.7-3.78V15.1A3.64,3.64,0,0,0,15.25,11.8ZM8.65,7h4.2a2.09,2.09,0,0,1,2,1.3,2.09,2.09,0,0,1-1.37,2.61,2.23,2.23,0,0,1-.63.09H8.65Zm4.6,10H8.65V13h4.6a2.09,2.09,0,0,1,2,1.3,2.09,2.09,0,0,1-1.37,2.61A2.23,2.23,0,0,1,13.25,17Z"/></svg>
<svg class="a" style="left:844.80px;top:1688.70px" width="33.19" height="33.19" viewBox="0 0 24 24"><path fill="#333" d="M11.76,9h2l-2.2,10h-2Zm1.68-4a1,1,0,1,0,1,1,1,1,0,0,0-1-1Z"/></svg>
<svg class="a" style="left:903.00px;top:1688.70px" width="33.19" height="33.19" viewBox="0 0 24 24"><path fill="#333" d="M19,20v2H5V20Zm-3-6.785a4,4,0,0,1-5.74,3.4A3.75,3.75,0,0,1,8,13.085V5.005H6v8.21a6,6,0,0,0,8,5.44,5.851,5.851,0,0,0,4-5.65v-8H16Z"/></svg>
<svg class="a" style="left:961.20px;top:1688.70px" width="33.19" height="33.19" viewBox="0 0 24 24"><path fill="#333" d="M13.55,19h2l-5-14h-2l-5,14h2l1.4-4h5.1Zm-5.9-6,1.9-5.2,1.9,5.2Zm12.8,4.5a1.5,1.5,0,1,1-1.5-1.5A1.5,1.5,0,0,1,20.45,17.5Zm0-4a1.5,1.5,0,1,1-1.5-1.5A1.5,1.5,0,0,1,20.45,13.5Zm0-4A1.5,1.5,0,1,1,18.95,8,1.5,1.5,0,0,1,20.45,9.5Z"/></svg>
<svg class="a" style="left:1057.90px;top:1688.70px" width="33.19" height="33.19" viewBox="0 0 24 24"><path fill="#333" d="M3,18h6v-2H3V18z M3,11v2h12v-2H3z M3,6v2h18V6H3z"/></svg>
<svg class="a" style="left:1115.90px;top:1688.70px" width="33.19" height="33.19" viewBox="0 0 24 24"><path fill="#333" d="M9,18h6v-2H9V18z M6,11v2h12v-2H6z M3,6v2h18V6H3z"/></svg>
<svg class="a" style="left:1173.90px;top:1688.70px" width="33.19" height="33.19" viewBox="0 0 24 24"><path fill="#333" d="M2.5,16h2v.5h-1v1h1V18h-2v1h3V15h-3Zm1-7h1V5h-2V6h1Zm-1,2H4.3L2.5,13.1V14h3V13H3.7l1.8-2.1V10h-3Zm5-5V8h14V6Zm0,12h14V16H7.5Zm0-5h14V11H7.5Z"/></svg>
<svg class="a" style="left:1231.00px;top:1688.70px" width="33.19" height="33.19" viewBox="0 0 24 24"><path fill="#333" d="M7.7,5a4,4,0,0,0,0,8v6h1.9V7h1.5V19h1.9V7h1.3V5ZM20.2,17.5A1.5,1.5,0,1,1,18.7,16,1.5,1.5,0,0,1,20.2,17.5Zm0-4A1.5,1.5,0,1,1,18.7,12,1.5,1.5,0,0,1,20.2,13.5Zm0-4A1.5,1.5,0,1,1,18.7,8,1.5,1.5,0,0,1,20.2,9.5Z"/></svg>
<svg class="a" style="left:1328.80px;top:1688.70px" width="33.19" height="33.19" viewBox="0 0 24 24"><path fill="#333" d="M14.2,11l3.8,5H6l3-3.9l2.1,2.7L14,11H14.2z M8.5,11c0.8,0,1.5-0.7,1.5-1.5S9.3,8,8.5,8S7,8.7,7,9.5C7,10.3,7.7,11,8.5,11z M22,6v12c0,1.1-0.9,2-2,2H4c-1.1,0-2-0.9-2-2V6c0-1.1,0.9-2,2-2h16C21.1,4,22,4.9,22,6z M20,8.8V6H4v12h16V8.8z"/></svg>
<svg class="a" style="left:1386.90px;top:1688.70px" width="33.19" height="33.19" viewBox="0 0 24 24"><path fill="#333" d="M11,17H7A5,5,0,0,1,7,7h4V9H7a3,3,0,0,0,0,6h4ZM17,7H13V9h4a3,3,0,0,1,0,6H13v2h4A5,5,0,0,0,17,7Zm-1,4H8v2h8Z"/></svg>
<svg class="a" style="left:1445.10px;top:1688.70px" width="33.19" height="33.19" viewBox="0 0 24 24"><path fill="#333" d="M7,3C5.9,3,5,3.9,5,5v14c0,1.1,0.9,2,2,2h10c1.1,0,2-0.9,2-2V7.6L14.4,3H7z M17,19H7V5h6v4h4V19z"/></svg>
<svg class="a" style="left:1560.00px;top:1688.70px" width="33.19" height="33.19" viewBox="0 0 24 24"><path fill="#333" d="M16.5,13h-6v6h-2V13h-6V11h6V5h2v6h6Zm5,4.5A1.5,1.5,0,1,1,20,16,1.5,1.5,0,0,1,21.5,17.5Zm0-4A1.5,1.5,0,1,1,20,12,1.5,1.5,0,0,1,21.5,13.5Zm0-4A1.5,1.5,0,1,1,20,8,1.5,1.5,0,0,1,21.5,9.5Z"/></svg>
<svg class="a" style="left:1502.20px;top:1688.70px" width="33.19" height="33.19" viewBox="0 0 24 24"><path d="M9.70,6.57 L10.33,3.77 L13.67,3.77 L14.30,6.57 L15.56,7.29 L18.30,6.44 L19.96,9.33 L17.85,11.27 L17.85,12.73 L19.96,14.67 L18.30,17.56 L15.56,16.71 L14.30,17.43 L13.67,20.23 L10.33,20.23 L9.70,17.43 L8.44,16.71 L5.70,17.56 L4.04,14.67 L6.15,12.73 L6.15,11.27 L4.04,9.33 L5.70,6.44 L8.44,7.29Z" fill="none" stroke="#333" stroke-width="1.7" stroke-linejoin="round"/><circle cx="12" cy="12" r="2.5" fill="#333"/></svg>
<svg class="a" style="left:1454.00px;top:1754.60px" width="33.19" height="33.19" viewBox="0 0 24 24"><path fill="#333" d="M10.4,9.4c-1.7,0.3-3.2,0.9-4.6,2L3,8.5v7h7l-2.7-2.7c3.7-2.6,8.8-1.8,11.5,1.9c0.2,0.3,0.4,0.5,0.5,0.8l1.8-0.9C18,9.8,14.4,8.6,10.4,9.4z"/></svg>
<svg class="a" style="left:1512.00px;top:1754.60px" width="33.19" height="33.19" viewBox="0 0 24 24"><path fill="#bdbdbd" d="M13.6,9.4c1.7,0.3,3.2,0.9,4.6,2L21,8.5v7h-7l2.7-2.7C13,10.1,7.9,11,5.3,14.7c-0.2,0.3-0.4,0.5-0.5,0.8L3,14.6C5.9,9.8,9.6,8.6,13.6,9.4z"/></svg>
<svg class="a" style="left:1570.00px;top:1754.60px" width="33.19" height="33.19" viewBox="0 0 24 24"><path fill="#333" d="M13.5,17c0,0.8-0.7,1.5-1.5,1.5s-1.5-0.7-1.5-1.5s0.7-1.5,1.5-1.5S13.5,16.2,13.5,17z M13.5,12c0,0.8-0.7,1.5-1.5,1.5s-1.5-0.7-1.5-1.5s0.7-1.5,1.5-1.5S13.5,11.2,13.5,12z M13.5,7c0,0.8-0.7,1.5-1.5,1.5S10.5,7.8,10.5,7s0.7-1.5,1.5-1.5S13.5,6.2,13.5,7z"/></svg>
<div class="t" style="top:2047px;font-size:19.2px;line-height:21px;color:#50555b;-webkit-text-stroke:0.15px #50555b;left:756.80px;">Signature</div>
<svg class="a" style="left:757px;top:2096px" width="22" height="22" viewBox="0 0 22 22"><rect width="22" height="22" rx="2.6" fill="#5bc65c"/><path d="M5 11.8 L9.7 16.6 L18 7.8" fill="none" stroke="#fff" stroke-width="2.1"/></svg>
<div class="t" style="top:2096px;font-size:19.2px;line-height:21px;color:#15181d;-webkit-text-stroke:0.2px #15181d;left:790.20px;">Signature 1</div>
<svg class="a" style="left:1212px;top:2096px" width="22" height="22" viewBox="0 0 22 22"><rect width="22" height="22" rx="2.6" fill="#5bc65c"/><path d="M5 11.8 L9.7 16.6 L18 7.8" fill="none" stroke="#fff" stroke-width="2.1"/></svg>
<div class="t" style="top:2096px;font-size:19.2px;line-height:21px;color:#15181d;-webkit-text-stroke:0.2px #15181d;left:1245.20px;">Signature 2</div>
<div class="t" style="top:2136px;font-size:19.2px;line-height:21px;color:#50555b;-webkit-text-stroke:0.15px #50555b;left:756.80px;">Title</div>
<div class="t" style="top:2136px;font-size:19.2px;line-height:21px;color:#50555b;-webkit-text-stroke:0.15px #50555b;left:1211.80px;">Title</div>
<div class="a" style="left:757px;top:2166px;width:425.5px;height:43px;border:1px solid #d8d8d8;border-radius:5px;background:#fff;"></div>
<div class="t" style="top:2178px;font-size:19.2px;line-height:21px;color:#1a1c22;left:773.20px;">Issued by</div>
<div class="a" style="left:1212px;top:2166px;width:425px;height:43px;border:1px solid #d8d8d8;border-radius:5px;background:#fff;"></div>
<div class="t" style="top:2178px;font-size:19.2px;line-height:21px;color:#1a1c22;left:1228.20px;">Signed by</div>
<svg class="a" style="left:757px;top:2230px" width="22" height="22" viewBox="0 0 22 22"><rect width="22" height="22" rx="2.6" fill="#5bc65c"/><path d="M5 11.8 L9.7 16.6 L18 7.8" fill="none" stroke="#fff" stroke-width="2.1"/></svg>
<div class="t" style="top:2230px;font-size:19.2px;line-height:21px;color:#15181d;-webkit-text-stroke:0.2px #15181d;left:790.20px;">Name</div>
<svg class="a" style="left:1212px;top:2230px" width="22" height="22" viewBox="0 0 22 22"><rect width="22" height="22" rx="2.6" fill="#5bc65c"/><path d="M5 11.8 L9.7 16.6 L18 7.8" fill="none" stroke="#fff" stroke-width="2.1"/></svg>
<div class="t" style="top:2230px;font-size:19.2px;line-height:21px;color:#15181d;-webkit-text-stroke:0.2px #15181d;left:1245.20px;">Name</div>
<svg class="a" style="left:757px;top:2274px" width="22" height="22" viewBox="0 0 22 22"><rect width="22" height="22" rx="2.6" fill="#5bc65c"/><path d="M5 11.8 L9.7 16.6 L18 7.8" fill="none" stroke="#fff" stroke-width="2.1"/></svg>
<div class="t" style="top:2274px;font-size:19.2px;line-height:21px;color:#15181d;-webkit-text-stroke:0.2px #15181d;left:790.20px;">IC</div>
<svg class="a" style="left:1212px;top:2274px" width="22" height="22" viewBox="0 0 22 22"><rect width="22" height="22" rx="2.6" fill="#5bc65c"/><path d="M5 11.8 L9.7 16.6 L18 7.8" fill="none" stroke="#fff" stroke-width="2.1"/></svg>
<div class="t" style="top:2274px;font-size:19.2px;line-height:21px;color:#15181d;-webkit-text-stroke:0.2px #15181d;left:1245.20px;">IC</div>
<svg class="a" style="left:757px;top:2318px" width="22" height="22" viewBox="0 0 22 22"><rect width="22" height="22" rx="2.6" fill="#5bc65c"/><path d="M5 11.8 L9.7 16.6 L18 7.8" fill="none" stroke="#fff" stroke-width="2.1"/></svg>
<div class="t" style="top:2319px;font-size:19.2px;line-height:21px;color:#15181d;-webkit-text-stroke:0.2px #15181d;left:790.20px;">Date</div>
<svg class="a" style="left:1212px;top:2318px" width="22" height="22" viewBox="0 0 22 22"><rect width="22" height="22" rx="2.6" fill="#5bc65c"/><path d="M5 11.8 L9.7 16.6 L18 7.8" fill="none" stroke="#fff" stroke-width="2.1"/></svg>
<div class="t" style="top:2319px;font-size:19.2px;line-height:21px;color:#15181d;-webkit-text-stroke:0.2px #15181d;left:1245.20px;">Date</div>
<div class="t" style="top:2402px;font-size:19.2px;line-height:21px;color:#50555b;-webkit-text-stroke:0.15px #50555b;left:756.80px;">Extra Feature</div>
<div class="t" style="top:2447px;font-size:19.2px;line-height:21px;color:#50555b;-webkit-text-stroke:0.15px #50555b;left:756.80px;">QR Code Size</div>
<div class="t" style="top:2447px;font-size:19.2px;line-height:21px;color:#50555b;-webkit-text-stroke:0.15px #50555b;left:1211.80px;">Barcode Height</div>
<div class="a" style="left:757px;top:2477px;width:425.5px;height:43px;border:1px solid #d8d8d8;border-radius:5px;background:#fff;"></div>
<div class="t" style="top:2490px;font-size:19.2px;line-height:21px;color:#1a1c22;left:773.20px;">60</div>
<div class="a" style="left:1132.5px;top:2478px;width:1.0px;height:43px;background:#d6d6d6;"></div>
<div class="t" style="top:2489px;font-size:19.2px;line-height:21px;color:#444;left:758.50px;width:800px;text-align:center;">px</div>
<div class="a" style="left:1212px;top:2477px;width:425px;height:43px;border:1px solid #d8d8d8;border-radius:5px;background:#fff;"></div>
<div class="t" style="top:2490px;font-size:19.2px;line-height:21px;color:#1a1c22;left:1228.20px;">40</div>
<div class="a" style="left:1587px;top:2478px;width:1px;height:43px;background:#d6d6d6;"></div>
<div class="t" style="top:2489px;font-size:19.2px;line-height:21px;color:#444;left:1213.00px;width:800px;text-align:center;">px</div>
<div class="t" style="top:2543px;font-size:19.2px;line-height:21px;color:#50555b;-webkit-text-stroke:0.15px #50555b;left:756.80px;">Product Image Size (width)</div>
<div class="t" style="top:2543px;font-size:19.2px;line-height:21px;color:#50555b;-webkit-text-stroke:0.15px #50555b;left:1211.80px;">Font Size</div>
<div class="a" style="left:757px;top:2573px;width:425.5px;height:43px;border:1px solid #d8d8d8;border-radius:5px;background:#fff;"></div>
<div class="t" style="top:2584px;font-size:19.2px;line-height:21px;color:#1a1c22;left:773.20px;">50px</div>
<svg class="a" style="left:1152.9px;top:2589.6px" width="18" height="14" viewBox="0 0 18 14"><path d="M2.4 2.6 L9 11 L15.6 2.6" fill="none" stroke="#bdbdbd" stroke-width="1.5"/></svg>
<div class="a" style="left:1212px;top:2573px;width:425px;height:43px;border:1px solid #d8d8d8;border-radius:5px;background:#fff;"></div>
<div class="t" style="top:2584px;font-size:19.2px;line-height:21px;color:#1a1c22;left:1228.20px;">Standard</div>
<svg class="a" style="left:1607.4px;top:2589.6px" width="18" height="14" viewBox="0 0 18 14"><path d="M2.4 2.6 L9 11 L15.6 2.6" fill="none" stroke="#bdbdbd" stroke-width="1.5"/></svg>
<div class="a" style="left:1700px;top:2708px;width:4px;height:4px;background:linear-gradient(135deg,#fff 45%,#e2e2e2 75%,#f2f2fa);"></div>
</body></html>
